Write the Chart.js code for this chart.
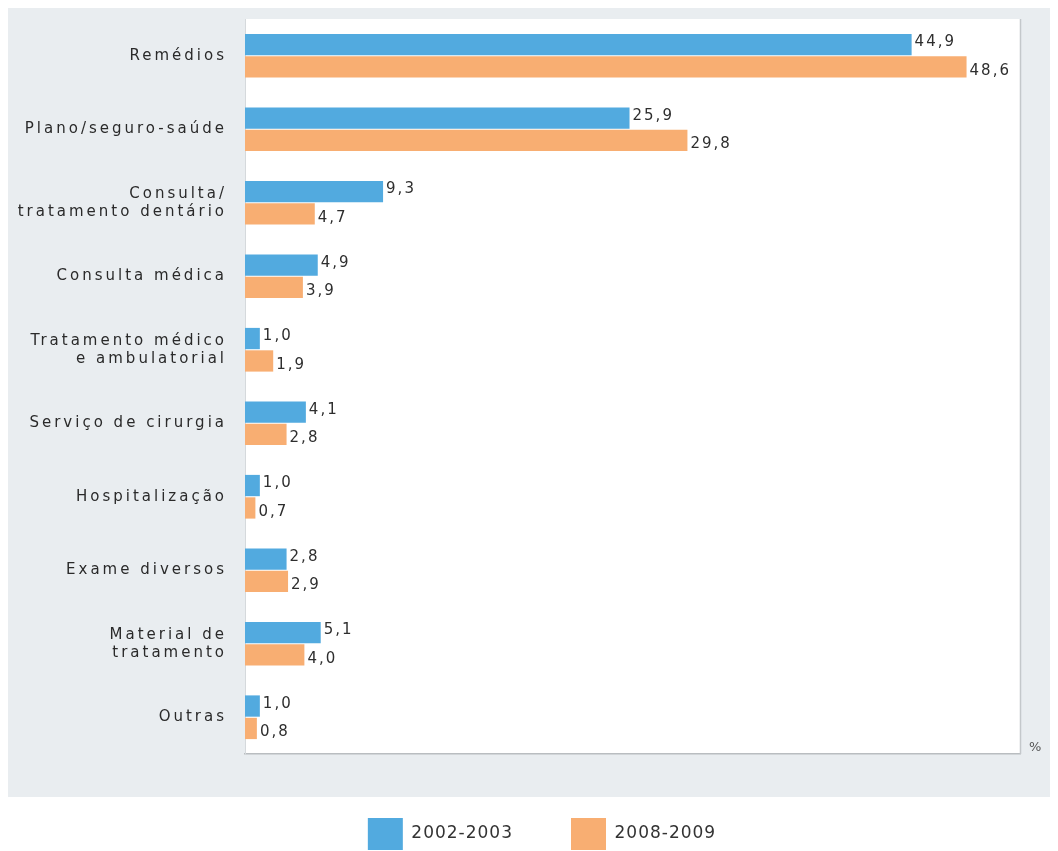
<!DOCTYPE html>
<html>
<head>
<meta charset="utf-8">
<script src="https://cdn.jsdelivr.net/npm/chart.js@4/dist/chart.umd.min.js"></script>
<style>
    html, body { margin: 0; padding: 0; background: #fff; overflow: hidden; }
    #wrap { width: 1058px; height: 860px; }
</style>
</head>
<body>
<div id="wrap"><canvas id="gastosChart" width="1058" height="860"></canvas></div>
<script>
// Despesas com saúde, participação por tipo (%)
const categorias = [
    'Remédios',
    'Plano/seguro-saúde',
    ['Consulta/', 'tratamento dentário'],
    'Consulta médica',
    ['Tratamento médico', 'e ambulatorial'],
    'Serviço de cirurgia',
    'Hospitalização',
    'Exame diversos',
    ['Material de', 'tratamento'],
    'Outras'
];
const periodos = ['2002-2003', '2008-2009'];
const valores2002 = [44.9, 25.9, 9.3, 4.9, 1.0, 4.1, 1.0, 2.8, 5.1, 1.0];
const valores2008 = [48.6, 29.8, 4.7, 3.9, 1.9, 2.8, 0.7, 2.9, 4.0, 0.8];

const AZUL = '#52aadf';
const LARANJA = '#f8ae72';
const FONTE = "'DejaVu Sans', Verdana, sans-serif";
const ESPACO_EIXO = '3px';
const ESPACO_VALOR = '2px';
const ESPACO_LEGENDA = '1px';

// espaçamento entre letras: largo nos eixos, mais justo na legenda
// (a legenda também é deslocada um pouco para a direita)
const espacamento = {
    id: 'espacamento',
    afterInit(chart) {
        const legenda = chart.legend;
        const desenhar = legenda.draw.bind(legenda);
        legenda.draw = function (area) {
            const ctx = chart.ctx;
            ctx.save();
            ctx.letterSpacing = ESPACO_LEGENDA;
            ctx.translate(7, 0);
            desenhar(area);
            ctx.restore();
        };
    },
    beforeLayout(chart) { chart.ctx.letterSpacing = ESPACO_LEGENDA; },
    beforeDraw(chart) { chart.ctx.letterSpacing = ESPACO_EIXO; }
};

// fundo cinza do painel, área branca do gráfico e borda direita
const painel = {
    id: 'painel',
    beforeDraw(chart) {
        const { ctx, chartArea: a } = chart;
        ctx.save();
        ctx.fillStyle = '#e9edf0';
        ctx.fillRect(8, 8, 1042, 789);
        ctx.fillStyle = '#ffffff';
        ctx.fillRect(a.left, a.top, a.right - a.left, a.bottom - a.top);
        ctx.restore();
    },
    afterDraw(chart) {
        const { ctx, chartArea: a } = chart;
        ctx.save();
        ctx.strokeStyle = '#c4c8cb';
        ctx.lineWidth = 1.5;
        ctx.beginPath();
        ctx.moveTo(a.right + 0.5, a.top);
        ctx.lineTo(a.right + 0.5, a.bottom);
        ctx.stroke();
        ctx.fillStyle = '#555';
        ctx.letterSpacing = '0px';
        ctx.font = '13px ' + FONTE;
        ctx.textBaseline = 'middle';
        ctx.fillText('%', a.right + 9, a.bottom - 6);
        ctx.restore();
    }
};

// valores ao lado de cada barra, com vírgula decimal
const rotulos = {
    id: 'rotulos',
    afterDatasetsDraw(chart) {
        const { ctx } = chart;
        ctx.save();
        ctx.letterSpacing = ESPACO_VALOR;
        ctx.font = '15px ' + FONTE;
        ctx.fillStyle = '#2e2e2e';
        ctx.textBaseline = 'middle';
        chart.data.datasets.forEach((ds, i) => {
            const meta = chart.getDatasetMeta(i);
            meta.data.forEach((bar, j) => {
                const txt = ds.data[j].toFixed(1).replace('.', ',');
                ctx.fillText(txt, bar.x + 3, bar.y + (i === 1 ? 4 : -2));
            });
        });
        ctx.restore();
    }
};

new Chart(document.getElementById('gastosChart'), {
    type: 'bar',
    data: {
        labels: categorias,
        datasets: [
            { label: periodos[0], data: valores2002, backgroundColor: AZUL },
            { label: periodos[1], data: valores2008, backgroundColor: LARANJA }
        ]
    },
    options: {
        indexAxis: 'y',
        responsive: false,
        animation: false,
        layout: { padding: { top: 17, left: 12, right: 0, bottom: 0 } },
        datasets: {
            bar: { categoryPercentage: 0.61, barPercentage: 0.95, borderWidth: 0 }
        },
        plugins: {
            tooltip: { enabled: false },
            legend: {
                position: 'bottom',
                labels: {
                    boxWidth: 35,
                    boxHeight: 32,
                    padding: 58,
                    color: '#333',
                    font: { family: FONTE, size: 17 }
                }
            }
        },
        scales: {
            x: {
                min: 0,
                max: 52.2,
                grid: { display: false },
                ticks: { display: false },
                border: { display: true, color: '#b9bdc0', width: 1.5 },
                afterFit(scale) { scale.height = 6; }
            },
            y: {
                grid: { display: false },
                border: { display: true, color: '#d5d9dc', width: 1 },
                ticks: {
                    color: '#2a2a2a',
                    padding: 10,
                    font: { family: FONTE, size: 15 }
                },
                afterFit(scale) { scale.width = 233; }
            },
            margemDireita: {
                type: 'linear',
                position: 'right',
                grid: { display: false },
                ticks: { display: false },
                border: { display: false },
                afterFit(scale) { scale.width = 38; }
            }
        }
    },
    plugins: [espacamento, painel, rotulos]
});
</script>
</body>
</html>
